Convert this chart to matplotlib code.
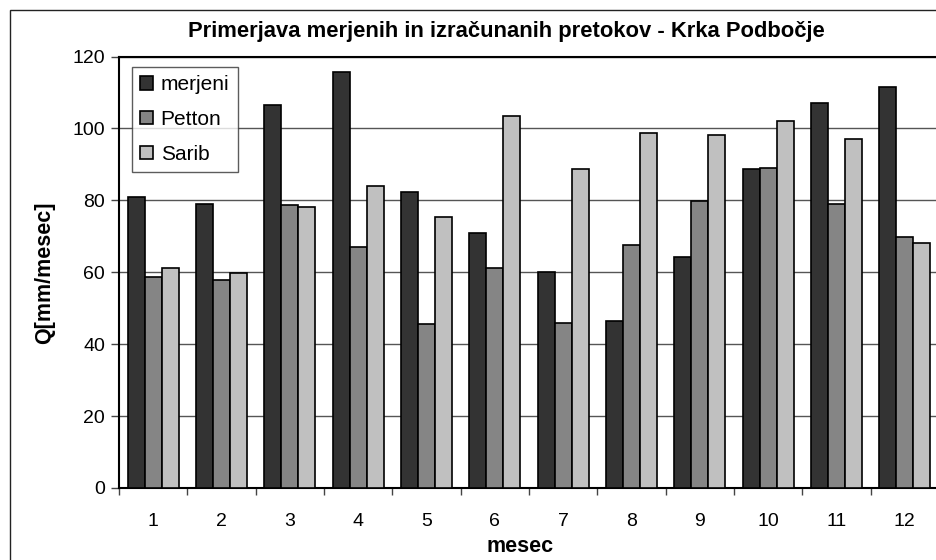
import matplotlib
matplotlib.use("Agg")
import matplotlib.pyplot as plt
import numpy as np
from matplotlib.patches import Rectangle

months = ["1", "2", "3", "4", "5", "6", "7", "8", "9", "10", "11", "12"]
merjeni = [80.9, 79.1, 106.6, 115.8, 82.3, 70.8, 60.2, 46.5, 64.3, 88.7, 107.2, 111.6]
petton = [58.8, 57.9, 78.6, 67.1, 45.5, 61.1, 46.0, 67.5, 79.9, 89.1, 79.1, 69.8]
sarib = [61.1, 59.8, 78.2, 84.1, 75.4, 103.4, 88.7, 98.7, 98.3, 102.1, 97.0, 68.1]
series_names = ["merjeni", "Petton", "Sarib"]
colors = ["#333333", "#858585", "#c0c0c0"]

plt.rcParams['font.family'] = ['Liberation Sans', 'DejaVu Sans']

W, H = 937, 560
fig = plt.figure(figsize=(W / 100, H / 100), dpi=100)
fig.patch.set_facecolor("white")

# outer chart border
fig.patches.append(Rectangle((10 / W, -0.1), 1.2, (H - 10) / H + 0.1, transform=fig.transFigure,
                             fill=False, edgecolor="#222222", linewidth=1.0))

left, right, top, bottom = 119, 939, 56.5, 488
aw, ah = right - left, bottom - top
ax = fig.add_axes([left / W, (H - bottom) / H, aw / W, ah / H])

x = np.arange(len(months))
bw = 0.25
for i, (vals, name, c) in enumerate(zip([merjeni, petton, sarib], series_names, colors)):
    ax.bar(x + (i - 1) * bw, vals, width=bw, color=c, edgecolor="black", linewidth=1.2,
           label=name, zorder=3)

ax.set_xlim(-0.5, len(months) - 0.5)
ax.set_ylim(0, 120)
ax.set_yticks(range(0, 121, 20))
ax.yaxis.grid(True, color="#555555", linewidth=1.0, zorder=0)
ax.set_axisbelow(True)

ax.set_xticks(x)
ax.set_xticklabels(months)
ax.set_xticks(np.arange(-0.5, len(months), 1), minor=True)
ax.tick_params(axis="x", which="major", length=0, pad=18, labelsize=14)
ax.tick_params(axis="x", which="minor", length=5, width=1, direction="out", color="#444444")
ax.tick_params(axis="y", length=6, width=1, direction="out", labelsize=14, pad=4, color="#444444")

ax.spines["right"].set_visible(False)
ax.spines["top"].set_linewidth(1.5)
ax.spines["left"].set_linewidth(1.5)
ax.spines["bottom"].set_linewidth(1.5)

ax.set_ylabel("Q[mm/mesec]", fontsize=15.5, fontweight="bold", va="center")
ax.yaxis.set_label_coords((45 - left) / aw, 0.5)
ax.set_xlabel("mesec", fontsize=15.5, fontweight="bold", va="center")
ax.xaxis.set_label_coords(0.5 - (939 - 937) / 2 / aw - (528 - 520) / aw, -(547 - bottom) / ah)

fig.text(506.5 / W, 1 - 31 / H, "Primerjava merjenih in izračunanih pretokov - Krka Podbočje",
         ha="center", va="center", fontsize=15.8, fontweight="bold")

leg = ax.legend(loc="upper left", bbox_to_anchor=((131.7 - left) / aw, 1 - (66.7 - top) / ah),
                fontsize=15, frameon=True, fancybox=False, edgecolor="#333333",
                handlelength=0.62, handleheight=0.62, handletextpad=0.35, labelspacing=0.75,
                borderpad=0.42, borderaxespad=0)
leg.get_frame().set_linewidth(1.0)

fig.savefig("out.png", dpi=100)
